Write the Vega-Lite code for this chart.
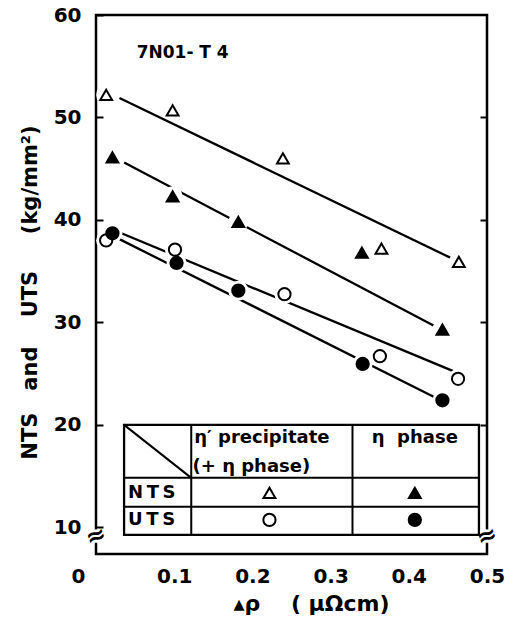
{
  "$schema": "https://vega.github.io/schema/vega-lite/v6.json",
  "width": 391,
  "height": 539,
  "autosize": {"type": "none"},
  "padding": {"left": 96, "top": 15, "right": 28, "bottom": 67},
  "background": "white",
  "config": {
    "view": {"stroke": "black", "strokeWidth": 2.5},
    "font": "DejaVu Sans",
    "text": {"font": "DejaVu Sans", "fontWeight": "bold", "color": "black"}
  },
  "datasets": {
    "points": [
      {"x": 0.013, "y": 52.2, "property": "NTS", "phase": "eta_prime"},
      {"x": 0.098, "y": 50.7, "property": "NTS", "phase": "eta_prime"},
      {"x": 0.239, "y": 46.0, "property": "NTS", "phase": "eta_prime"},
      {"x": 0.365, "y": 37.2, "property": "NTS", "phase": "eta_prime"},
      {"x": 0.464, "y": 35.9, "property": "NTS", "phase": "eta_prime"},
      {"x": 0.021, "y": 46.1, "property": "NTS", "phase": "eta"},
      {"x": 0.098, "y": 42.3, "property": "NTS", "phase": "eta"},
      {"x": 0.182, "y": 39.8, "property": "NTS", "phase": "eta"},
      {"x": 0.340, "y": 36.8, "property": "NTS", "phase": "eta"},
      {"x": 0.443, "y": 29.3, "property": "NTS", "phase": "eta"},
      {"x": 0.013, "y": 38.0, "property": "UTS", "phase": "eta_prime"},
      {"x": 0.101, "y": 37.1, "property": "UTS", "phase": "eta_prime"},
      {"x": 0.241, "y": 32.75, "property": "UTS", "phase": "eta_prime"},
      {"x": 0.363, "y": 26.7, "property": "UTS", "phase": "eta_prime"},
      {"x": 0.463, "y": 24.5, "property": "UTS", "phase": "eta_prime"},
      {"x": 0.021, "y": 38.7, "property": "UTS", "phase": "eta"},
      {"x": 0.103, "y": 35.8, "property": "UTS", "phase": "eta"},
      {"x": 0.182, "y": 33.1, "property": "UTS", "phase": "eta"},
      {"x": 0.341, "y": 25.95, "property": "UTS", "phase": "eta"},
      {"x": 0.443, "y": 22.4, "property": "UTS", "phase": "eta"}
    ],
    "fits": [
      {"series": "NTS eta_prime", "x": 0.030, "y": 51.9},
      {"series": "NTS eta_prime", "x": 0.459, "y": 36.1},
      {"series": "NTS eta", "x": 0.036, "y": 45.6},
      {"series": "NTS eta", "x": 0.434, "y": 29.6},
      {"series": "UTS eta_prime", "x": 0.0295, "y": 38.8},
      {"series": "UTS eta_prime", "x": 0.4615, "y": 25.1},
      {"series": "UTS eta", "x": 0.028, "y": 38.2},
      {"series": "UTS eta", "x": 0.433, "y": 22.7}
    ],
    "table_box": [{"x": 0.0359, "x2": 0.4897, "y": 9.27, "y2": 20.0}],
    "table_rules": [
      {"x": 0.0359, "x2": 0.4897, "y": 14.83, "y2": 14.83},
      {"x": 0.0359, "x2": 0.4897, "y": 12.0, "y2": 12.0},
      {"x": 0.1218, "x2": 0.1218, "y": 9.27, "y2": 20.0},
      {"x": 0.328, "x2": 0.328, "y": 9.27, "y2": 20.0},
      {"x": 0.0359, "x2": 0.1218, "y": 20.0, "y2": 14.83}
    ],
    "table_text": [
      {"x": 0.1256, "y": 18.73, "label": "η′ precipitate"},
      {"x": 0.1235, "y": 15.9, "label": "(+ η phase)"},
      {"x": 0.3526, "y": 18.73, "label": "η\u00a0\u00a0phase"},
      {"x": 0.041, "y": 13.37, "label": "N\u2009T\u2009S"},
      {"x": 0.041, "y": 10.73, "label": "U\u2009T\u2009S"}
    ],
    "legend_pts": [
      {"x": 0.2218, "y": 13.37, "property": "NTS", "phase": "eta_prime"},
      {"x": 0.4077, "y": 13.37, "property": "NTS", "phase": "eta"},
      {"x": 0.2218, "y": 10.73, "property": "UTS", "phase": "eta_prime"},
      {"x": 0.4077, "y": 10.73, "property": "UTS", "phase": "eta"}
    ],
    "notes": [{"x": 0.052, "y": 56.3, "label": "7N01- T 4"}],
    "breaks": [
      {"x": 0.0, "y": 9.1, "xa": -0.009, "xb": 0.009, "ya": 8.5, "yb": 9.8},
      {"x": 0.5, "y": 9.1, "xa": 0.491, "xb": 0.509, "ya": 8.5, "yb": 9.8}
    ]
  },
  "resolve": {"scale": {"y": "shared", "x": "shared"}, "axis": {"y": "independent"}},
  "layer": [
    {
      "data": {"name": "fits"},
      "mark": {"type": "line", "color": "black", "strokeWidth": 2.3},
      "encoding": {
        "x": {
          "field": "x", "type": "quantitative",
          "scale": {"domain": [0, 0.5], "nice": false, "zero": false},
          "axis": {
            "orient": "bottom", "values": [0, 0.1, 0.2, 0.3, 0.4, 0.5],
            "labelExpr": "datum.value == 0 ? '0' : format(datum.value, '.1f')",
            "ticks": false, "domain": false, "grid": false,
            "labelFontSize": 20, "labelFontWeight": "bold", "labelColor": "black",
            "labelPadding": 12, "labelFlush": false,
            "labelOffset": {"condition": {"test": "datum.value == 0", "value": -18}, "value": 0},
            "title": "▴ρ\u00a0\u00a0\u00a0\u00a0(\u00a0μΩcm)", "titleFontSize": 22, "titleFontWeight": "bold",
            "titleColor": "black", "titleX": 215, "titleY": 39, "titleAnchor": null
          }
        },
        "y": {
          "field": "y", "type": "quantitative",
          "scale": {"domain": [7.4, 60], "nice": false, "zero": false},
          "axis": {
            "orient": "left", "values": [10, 20, 30, 40, 50, 60],
            "tickSize": -7, "tickWidth": 2, "tickColor": "black",
            "domain": false, "grid": false,
            "labelFontSize": 20, "labelFontWeight": "bold", "labelColor": "black",
            "labelPadding": 22, "labelFlush": false,
            "title": "NTS\u00a0\u00a0\u00a0and\u00a0\u00a0\u00a0\u00a0UTS\u00a0\u00a0\u00a0\u00a0\u00a0(kg/mm²)", "titleFontSize": 21, "titleFontWeight": "bold",
            "titleColor": "black", "titleX": -66, "titleY": 277, "titleAngle": -90,
            "titleAlign": "center", "titleBaseline": "middle"
          }
        },
        "detail": {"field": "series"}
      }
    },
    {
      "data": {"name": "points"},
      "mark": {"type": "point", "shape": "circle", "filled": true, "color": "white", "size": 400, "opacity": 1},
      "encoding": {
        "x": {"field": "x", "type": "quantitative"},
        "y": {
          "field": "y", "type": "quantitative",
          "axis": {
            "orient": "right", "values": [20, 30, 40, 50], "labels": false,
            "tickSize": -7, "tickWidth": 2, "tickColor": "black",
            "domain": false, "grid": false, "title": null
          }
        }
      }
    },
    {
      "data": {"name": "points"},
      "mark": {"type": "point", "strokeWidth": 2, "stroke": "black", "opacity": 1},
      "encoding": {
        "x": {"field": "x", "type": "quantitative"},
        "y": {"field": "y", "type": "quantitative", "axis": null},
        "shape": {"field": "property", "type": "nominal", "scale": {"domain": ["NTS", "UTS"], "range": ["triangle-up", "circle"]}, "legend": null},
        "fill": {"field": "phase", "type": "nominal", "scale": {"domain": ["eta_prime", "eta"], "range": ["white", "black"]}, "legend": null},
        "size": {"field": "property", "type": "nominal", "scale": {"domain": ["NTS", "UTS"], "range": [140, 150]}, "legend": null}
      }
    },
    {
      "data": {"name": "table_box"},
      "mark": {"type": "rect", "fill": "white", "stroke": "black", "strokeWidth": 2.3},
      "encoding": {
        "x": {"field": "x", "type": "quantitative"},
        "x2": {"field": "x2"},
        "y": {"field": "y", "type": "quantitative", "axis": null},
        "y2": {"field": "y2"}
      }
    },
    {
      "data": {"name": "table_rules"},
      "mark": {"type": "rule", "color": "black", "strokeWidth": 2},
      "encoding": {
        "x": {"field": "x", "type": "quantitative"},
        "x2": {"field": "x2"},
        "y": {"field": "y", "type": "quantitative", "axis": null},
        "y2": {"field": "y2"}
      }
    },
    {
      "data": {"name": "table_text"},
      "mark": {"type": "text", "align": "left", "baseline": "middle", "fontSize": 18, "fontWeight": "bold"},
      "encoding": {
        "x": {"field": "x", "type": "quantitative"},
        "y": {"field": "y", "type": "quantitative", "axis": null},
        "text": {"field": "label"}
      }
    },
    {
      "data": {"name": "legend_pts"},
      "mark": {"type": "point", "strokeWidth": 2, "stroke": "black", "opacity": 1},
      "encoding": {
        "x": {"field": "x", "type": "quantitative"},
        "y": {"field": "y", "type": "quantitative", "axis": null},
        "shape": {"field": "property", "type": "nominal", "legend": null},
        "fill": {"field": "phase", "type": "nominal", "legend": null},
        "size": {"field": "property", "type": "nominal", "legend": null}
      }
    },
    {
      "data": {"name": "notes"},
      "mark": {"type": "text", "align": "left", "baseline": "middle", "fontSize": 17, "fontWeight": "bold"},
      "encoding": {
        "x": {"field": "x", "type": "quantitative"},
        "y": {"field": "y", "type": "quantitative", "axis": null},
        "text": {"field": "label"}
      }
    },
    {
      "data": {"name": "breaks"},
      "mark": {"type": "rect", "fill": "white"},
      "encoding": {
        "x": {"field": "xa", "type": "quantitative"},
        "x2": {"field": "xb"},
        "y": {"field": "ya", "type": "quantitative", "axis": null},
        "y2": {"field": "yb"}
      }
    },
    {
      "data": {"name": "breaks"},
      "mark": {"type": "text", "align": "center", "baseline": "middle", "fontSize": 24, "fontWeight": "bold", "angle": -20},
      "encoding": {
        "x": {"field": "x", "type": "quantitative"},
        "y": {"field": "y", "type": "quantitative", "axis": null},
        "text": {"value": "≈"}
      }
    }
  ]
}
